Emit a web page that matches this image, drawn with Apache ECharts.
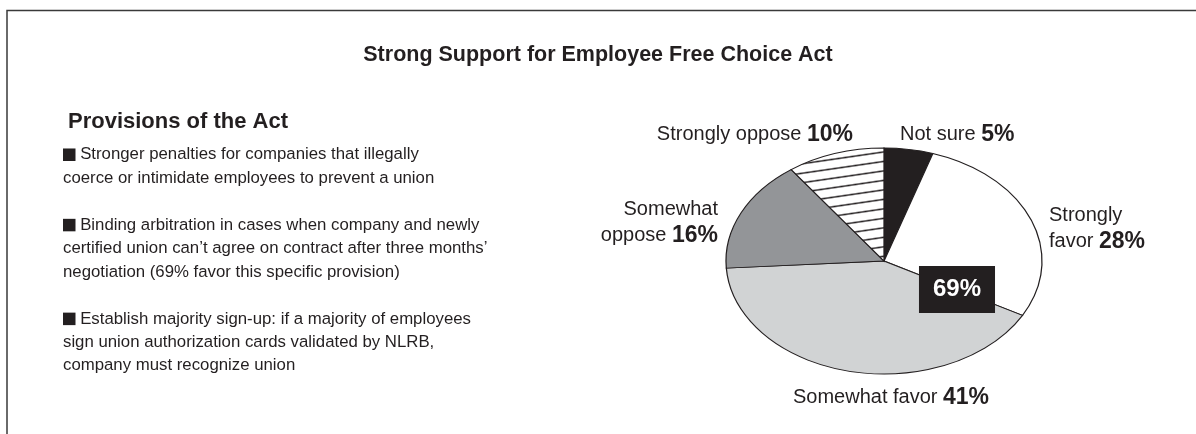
<!DOCTYPE html>
<html>
<head>
<meta charset="utf-8">
<script src="https://cdn.jsdelivr.net/npm/echarts@6/dist/echarts.min.js"></script>
<style>
  html, body { margin: 0; padding: 0; background: #ffffff; }
  #chart { width: 1196px; height: 434px; }
</style>
</head>
<body>
<div id="chart"></div>
<script>
// Poll responses, listed clockwise from 12 o'clock
const categories = ['Not sure', 'Strongly favor', 'Somewhat favor', 'Somewhat oppose', 'Strongly oppose'];
const shares = [5, 28, 41, 16, 10];
const favorCategories = ['Strongly favor', 'Somewhat favor'];

const titleText = 'Strong Support for Employee Free Choice Act';
const sideHeading = 'Provisions of the Act';
const provisions = [
  ['Stronger penalties for companies that illegally',
   'coerce or intimidate employees to prevent a union'],
  ['Binding arbitration in cases when company and newly',
   'certified union can\u2019t agree on contract after three months\u2019',
   'negotiation (69% favor this specific provision)'],
  ['Establish majority sign-up: if a majority of employees',
   'sign union authorization cards validated by NLRB,',
   'company must recognize union']
];

// ---- styling ----
const INK = '#231f20';
const FONT = '"Liberation Sans", Arial, Helvetica, sans-serif';

// tilted pie: circle of radius RX squashed vertically to RY
const PIE = { cx: 884, cy: 261, rx: 158, ry: 113 };

function stripePattern() {
  const c = document.createElement('canvas');
  c.width = 12; c.height = 13;
  const g = c.getContext('2d');
  g.fillStyle = '#ffffff';
  g.fillRect(0, 0, 12, 13);
  g.fillStyle = INK;
  g.fillRect(0, 5.5, 12, 2);
  return { image: c, repeat: 'repeat', rotation: -0.2 };
}

const sliceFill = {
  'Not sure': INK,
  'Strongly favor': '#ffffff',
  'Somewhat favor': '#d1d3d4',
  'Somewhat oppose': '#939598',
  'Strongly oppose': stripePattern()
};

// label anchors, offsets from the pie centre
const labelLayout = {
  'Not sure':        { dx: 16,   dy: -126.5, align: 'left',   wrap: false },
  'Strongly favor':  { dx: 165,  dy: -32.5,  align: 'left',   wrap: true },
  'Somewhat favor':  { dx: 7,    dy: 136.5,  align: 'center', wrap: false },
  'Somewhat oppose': { dx: -166, dy: -38.5,  align: 'right',  wrap: true },
  'Strongly oppose': { dx: -31,  dy: -126.5, align: 'right',  wrap: false }
};

const labelRich = {
  n: { fontSize: 20, fontFamily: FONT, fill: INK, lineHeight: 26 },
  v: { fontSize: 23, fontFamily: FONT, fontWeight: 'bold', fill: INK, lineHeight: 26 }
};

const total = shares.reduce((a, b) => a + b, 0);
const cumulative = [];
shares.reduce((acc, v) => { cumulative.push(acc); return acc + v; }, 0);

const favorTotal = categories.reduce(
  (s, name, i) => s + (favorCategories.indexOf(name) >= 0 ? shares[i] : 0), 0);

function renderSlice(params, api) {
  const i = params.dataIndex;
  const name = categories[i];
  const v = api.value(0);
  const a0 = -Math.PI / 2 + cumulative[i] / total * Math.PI * 2;
  const a1 = a0 + v / total * Math.PI * 2;

  const lay = labelLayout[name];
  const pct = '{v|' + v + '%}';
  let text;
  if (lay.wrap) {
    const sp = name.indexOf(' ');
    text = '{n|' + name.slice(0, sp) + '}\n{n|' + name.slice(sp + 1) + ' }' + pct;
  } else {
    text = '{n|' + name + ' }' + pct;
  }

  return {
    type: 'group',
    children: [
      {
        type: 'group',
        x: PIE.cx,
        y: PIE.cy,
        scaleY: PIE.ry / PIE.rx,
        children: [{
          type: 'sector',
          shape: { cx: 0, cy: 0, r: PIE.rx, r0: 0, startAngle: a0, endAngle: a1, clockwise: true },
          style: { fill: sliceFill[name], stroke: INK, lineWidth: 1.25, strokeNoScale: true }
        }]
      },
      {
        type: 'text',
        x: PIE.cx + lay.dx,
        y: PIE.cy + lay.dy,
        style: { text: text, align: lay.align, verticalAlign: 'middle', rich: labelRich }
      }
    ]
  };
}

// provisions list: one line grid, a blank line between items
const LIST = { x: 63, top: 143, lineHeight: 23.45, fontSize: 16.8 };
const listGraphics = [];
let lineIndex = 0;
provisions.forEach(lines => {
  const text = lines.map((ln, k) => (k === 0 ? '{sq|}{t| ' + ln + '}' : '{t|' + ln + '}')).join('\n');
  listGraphics.push({
    type: 'text',
    x: LIST.x,
    y: LIST.top + lineIndex * LIST.lineHeight,
    style: {
      text: text,
      verticalAlign: 'top',
      rich: {
        sq: { width: 12.5, height: 12.5, backgroundColor: INK, lineHeight: LIST.lineHeight },
        t: { fontSize: LIST.fontSize, fontFamily: FONT, fill: INK, lineHeight: LIST.lineHeight }
      }
    }
  });
  lineIndex += lines.length + 1;
});

const chart = echarts.init(document.getElementById('chart'), null, { renderer: 'canvas' });
chart.setOption({
  animation: false,
  backgroundColor: '#ffffff',
  title: {
    text: titleText,
    left: 'center',
    top: 44,
    padding: 0,
    textStyle: { fontSize: 21.5, fontWeight: 'bold', fontFamily: FONT, color: INK, lineHeight: 22 }
  },
  series: [{
    type: 'custom',
    coordinateSystem: 'none',
    silent: true,
    data: categories.map((name, i) => ({ name: name, value: shares[i] })),
    renderItem: renderSlice
  }],
  graphic: [
    {
      type: 'polyline',
      shape: { points: [[7, 434], [7, 10.5], [1196, 10.5]] },
      style: { stroke: '#3a3a3a', lineWidth: 1.5, fill: null }
    },
    {
      type: 'text',
      x: 68,
      y: 122.4,
      style: { text: sideHeading, fontSize: 22, fontWeight: 'bold', fontFamily: FONT, fill: INK, verticalAlign: 'middle' }
    },
    ...listGraphics,
    {
      type: 'text',
      x: PIE.cx + 73,
      y: PIE.cy + 28.5,
      z: 10,
      style: {
        text: favorTotal + '%',
        fontSize: 24,
        fontWeight: 'bold',
        fontFamily: FONT,
        fill: '#ffffff',
        align: 'center',
        verticalAlign: 'middle',
        lineHeight: 25,
        backgroundColor: INK,
        padding: [11, 14]
      }
    }
  ]
});
</script>
</body>
</html>
